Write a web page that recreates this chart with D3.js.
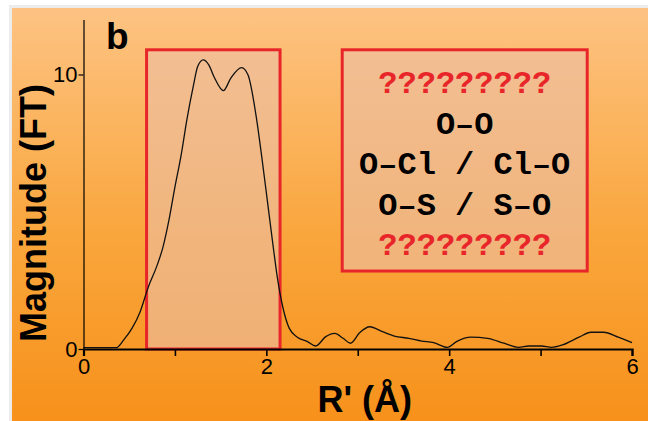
<!DOCTYPE html>
<html><head><meta charset="utf-8">
<script src="https://cdn.jsdelivr.net/npm/d3@7"></script>
<style>html,body{margin:0;padding:0;background:#fff;}svg{display:block;}</style>
</head><body>
<script>
// Data
const rValues = [0, 0.2, 0.36, 0.44, 0.53, 0.62, 0.71, 0.80, 0.87, 0.935, 1.0, 1.07, 1.13, 1.20, 1.25, 1.31, 1.37, 1.43, 1.53, 1.61, 1.73, 1.80, 1.89, 1.95, 2.01, 2.07, 2.12, 2.18, 2.25, 2.34, 2.45, 2.54, 2.65, 2.75, 2.84, 2.92, 3.02, 3.13, 3.27, 3.40, 3.56, 3.70, 3.83, 3.98, 4.08, 4.24, 4.42, 4.60, 4.76, 4.87, 5.01, 5.12, 5.24, 5.42, 5.55, 5.69, 5.85, 6.0];
const magnitude = [0.05, 0.05, 0.05, 0.33, 0.75, 1.36, 2.27, 3.0, 3.72, 4.7, 5.9, 7.1, 8.34, 9.56, 10.3, 10.53, 10.35, 9.9, 9.41, 9.86, 10.25, 9.98, 8.45, 7.0, 5.43, 3.86, 2.62, 1.53, 0.76, 0.43, 0.27, 0.11, 0.45, 0.57, 0.39, 0.21, 0.59, 0.81, 0.63, 0.47, 0.39, 0.29, 0.23, 0.06, 0.27, 0.43, 0.39, 0.21, 0.06, 0.11, 0.11, 0.06, 0.15, 0.43, 0.61, 0.61, 0.43, 0.23];
const xTicks = [0, 1, 2, 3, 4, 5, 6];
const xTickLabels = ["0", "", "2", "", "4", "", "6"];
const yTicks = [0, 10];
const highlightRange = [0.69, 2.15, 0, 10.9];      // x0, x1, y0, y1
const boxRange = [2.83, 5.51, 2.84, 10.9];          // x0, x1, y0, y1
const boxLines = ["?????????", "O\u2013O", "O\u2013Cl / Cl\u2013O", "O\u2013S / S\u2013O", "?????????"];
const boxLineColors = ["red", "black", "black", "black", "red"];
const panelLabel = "b";
const xTitle = "R' (\u00C5)";
const yTitle = "Magnitude (FT)";

const W = 648, H = 421;
const svg = d3.select("body").append("svg").attr("width", W).attr("height", H);

const defs = svg.append("defs");
const grad = defs.append("linearGradient").attr("id", "bg").attr("x1", 0).attr("y1", 0).attr("x2", 0).attr("y2", 1);
grad.append("stop").attr("offset", "0%").attr("stop-color", "#fdc383");
grad.append("stop").attr("offset", "55%").attr("stop-color", "#f9a63c");
grad.append("stop").attr("offset", "100%").attr("stop-color", "#f7911b");

// outer frame
svg.append("rect").attr("x", 9).attr("y", 5).attr("width", W - 9).attr("height", H - 5).attr("fill", "#ececec");
svg.append("rect").attr("x", 12).attr("y", 8).attr("width", W - 12).attr("height", H - 8).attr("fill", "url(#bg)");

const x = d3.scaleLinear().domain([0, 6]).range([83.5, 632]);
const y = d3.scaleLinear().domain([0, 12]).range([349, 19.6]);

const red = "#e8262a";
const boxFill = "rgba(236,190,165,0.62)";

// highlight rectangle
svg.append("rect")
  .attr("x", x(highlightRange[0])).attr("y", y(highlightRange[3]))
  .attr("width", x(highlightRange[1]) - x(highlightRange[0]))
  .attr("height", y(highlightRange[2]) - y(highlightRange[3]))
  .attr("fill", boxFill).attr("stroke", red).attr("stroke-width", 3);

// text box
svg.append("rect")
  .attr("x", x(boxRange[0])).attr("y", y(boxRange[3]))
  .attr("width", x(boxRange[1]) - x(boxRange[0]))
  .attr("height", y(boxRange[2]) - y(boxRange[3]))
  .attr("fill", boxFill).attr("stroke", red).attr("stroke-width", 3);

const cx = (x(boxRange[0]) + x(boxRange[1])) / 2;
svg.append("g").selectAll("text").data(boxLines).join("text")
  .attr("x", cx).attr("y", (d, i) => 93 + i * 40.5)
  .attr("text-anchor", "middle")
  .attr("font-family", "'Liberation Mono', 'Courier New', monospace")
  .attr("font-weight", "bold").attr("font-size", 32)
  .attr("fill", (d, i) => boxLineColors[i] === "red" ? red : "#000")
  .text(d => d);

// line
const line = d3.line().x((d, i) => x(rValues[i])).y(d => y(d)).curve(d3.curveMonotoneX);
svg.append("path").datum(magnitude).attr("d", line)
  .attr("fill", "none").attr("stroke", "#111").attr("stroke-width", 1.3);

// x axis
const xAxis = d3.axisBottom(x).tickValues(xTicks).tickFormat((d, i) => xTickLabels[i]).tickSize(7).tickPadding(2);
const gx = svg.append("g").attr("transform", `translate(0,${y(0)})`).call(xAxis);
gx.select(".domain").attr("stroke", "#000").attr("stroke-width", 2.2);
gx.selectAll(".tick line").attr("stroke", "#000").attr("stroke-width", 1.6);
gx.selectAll(".tick text").attr("font-family", "'Liberation Sans', Arial, sans-serif").attr("font-size", 22).attr("fill", "#000");

// y axis
const yAxis = d3.axisLeft(y).tickValues(yTicks).tickFormat(d3.format("d")).tickSize(5).tickPadding(1).tickSizeOuter(0);
const gy = svg.append("g").attr("transform", `translate(${x(0)},0)`).call(yAxis);
gy.select(".domain").attr("stroke", "#000").attr("stroke-width", 1.2);
gy.selectAll(".tick line").attr("stroke", "#000").attr("stroke-width", 1.2);
gy.selectAll(".tick text").attr("font-family", "'Liberation Sans', Arial, sans-serif").attr("font-size", 22).attr("fill", "#000");

// titles
svg.append("text").attr("x", 106).attr("y", 49)
  .attr("font-family", "'Liberation Sans', Arial, sans-serif").attr("font-weight", "bold").attr("font-size", 37)
  .text(panelLabel);
svg.append("text").attr("x", (x(0) + x(6)) / 2 + 7).attr("y", 412)
  .attr("text-anchor", "middle")
  .attr("font-family", "'Liberation Sans', Arial, sans-serif").attr("font-weight", "bold").attr("font-size", 36)
  .text(xTitle);
svg.append("text").attr("transform", "translate(46,213) rotate(-90)")
  .attr("text-anchor", "middle")
  .attr("font-family", "'Liberation Sans', Arial, sans-serif").attr("font-weight", "bold").attr("font-size", 36)
  .text(yTitle);
</script>
</body></html>
